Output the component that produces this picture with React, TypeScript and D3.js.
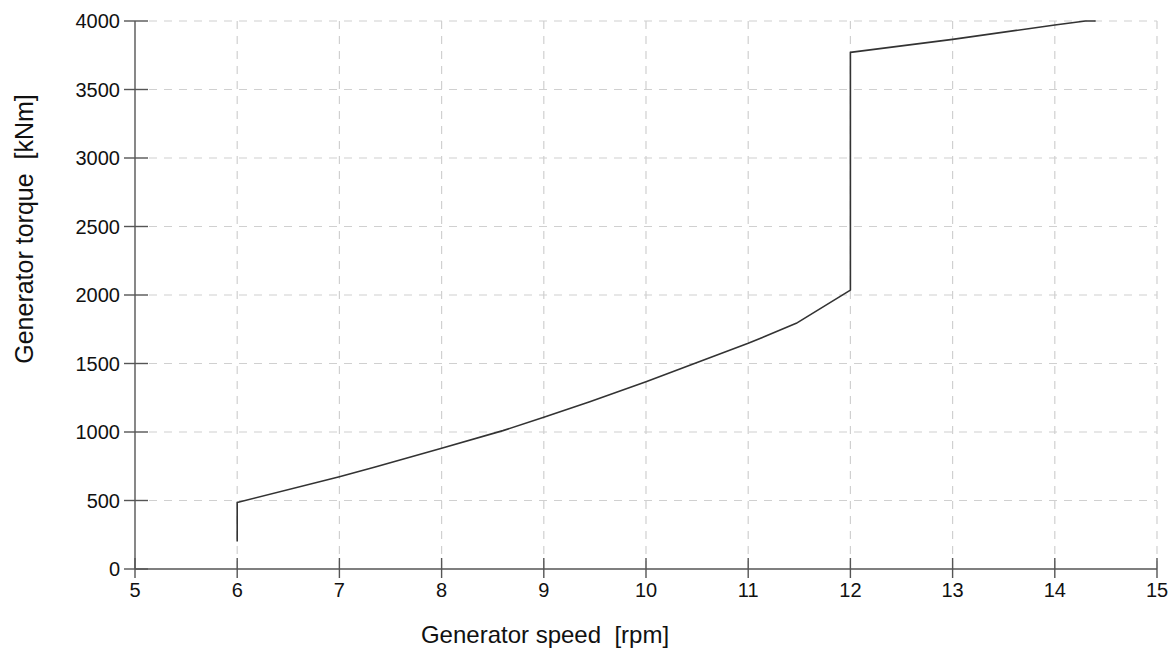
import React from 'react';
import * as d3 from 'd3';

// generator speed [rpm] and torque [kNm]
const speed = [6, 6, 7, 7.35, 8, 8.6, 9, 9.45, 10, 11, 11.47, 12, 12, 13, 14, 14.3, 14.4];
const torque = [200, 485, 674, 745, 881, 1010, 1107, 1220, 1367, 1647, 1793, 2036, 3771, 3866, 3971, 4000, 4000];

const xTicks = [5, 6, 7, 8, 9, 10, 11, 12, 13, 14, 15];
const yTicks = [0, 500, 1000, 1500, 2000, 2500, 3000, 3500, 4000];

const W = 1171;
const H = 652;
const left = 135, right = 1157, top = 21, bottom = 569;
const font = 'Liberation Sans, Arial, sans-serif';

export default function App() {
  const x = d3.scaleLinear().domain([5, 15]).range([left, right]);
  const y = d3.scaleLinear().domain([0, 4000]).range([bottom, top]);

  const pts = speed.map((s, i) => [s, torque[i]] as [number, number]);
  const line = d3.line<[number, number]>().x(d => x(d[0])).y(d => y(d[1]));

  return (
    <svg width={W} height={H} style={{ position: 'absolute', left: 0, top: 0, background: '#fff' }}>
      {/* grid */}
      <g stroke="#d0d0d0" strokeWidth={1.2} strokeDasharray="8,7">
        {xTicks.slice(1).map(t => (
          <line key={'gx' + t} x1={x(t)} x2={x(t)} y1={top} y2={bottom} />
        ))}
        {yTicks.slice(1).map(t => (
          <line key={'gy' + t} x1={left + 14} x2={right} y1={y(t)} y2={y(t)} />
        ))}
      </g>

      {/* axes */}
      <g stroke="#555" strokeWidth={1.4}>
        <line x1={left} x2={left} y1={top} y2={bottom} />
        <line x1={left} x2={right} y1={bottom} y2={bottom} />
        {yTicks.map(t => (
          <line key={'ty' + t} x1={left - 11} x2={left + 13} y1={y(t)} y2={y(t)} />
        ))}
        {xTicks.map(t => (
          <line key={'tx' + t} x1={x(t)} x2={x(t)} y1={bottom - 11} y2={bottom + 9} />
        ))}
      </g>

      {/* tick labels */}
      <g fontFamily={font} fontSize={20} fill="#111">
        {yTicks.map(t => (
          <text key={'ly' + t} x={left - 15} y={y(t)} dy="0.35em" textAnchor="end">{t}</text>
        ))}
        {xTicks.map(t => (
          <text key={'lx' + t} x={x(t)} y={bottom + 28} textAnchor="middle">{t}</text>
        ))}
      </g>

      {/* axis titles */}
      <text x={545} y={643} fontFamily={font} fontSize={24} textAnchor="middle" fill="#111"
        style={{ whiteSpace: 'pre' }}>
        {'Generator speed  [rpm]'}
      </text>
      <text transform={`translate(33,229) rotate(-90)`} fontFamily={font} fontSize={25}
        textAnchor="middle" fill="#111" style={{ whiteSpace: 'pre' }}>
        {'Generator torque  [kNm]'}
      </text>

      {/* curve */}
      <path d={line(pts) ?? ''} fill="none" stroke="#333" strokeWidth={1.6} strokeLinejoin="round" />
    </svg>
  );
}
